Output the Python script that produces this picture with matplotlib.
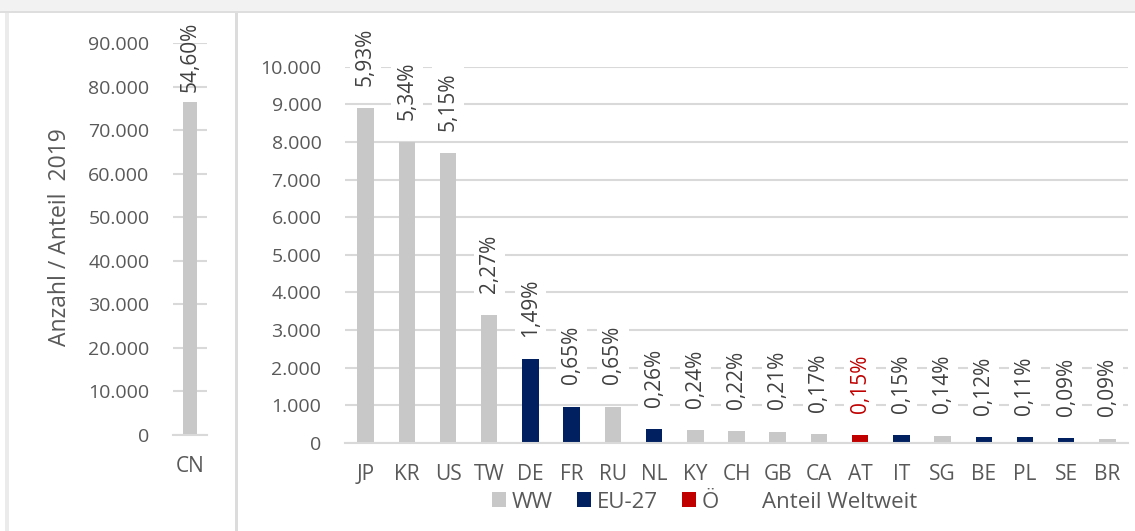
import matplotlib.pyplot as plt
from matplotlib.patches import Rectangle, Patch
from matplotlib.ticker import FuncFormatter

plt.rcParams['font.family'] = ['Open Sans', 'DejaVu Sans']

# Anzahl 2019 und Anteil weltweit
cn_value = 76600
cn_share = '54,60%'

countries = ['JP', 'KR', 'US', 'TW', 'DE', 'FR', 'RU', 'NL', 'KY', 'CH',
             'GB', 'CA', 'AT', 'IT', 'SG', 'BE', 'PL', 'SE', 'BR']
values = [8900, 8000, 7710, 3400, 2230, 965, 965, 375, 350, 310,
          300, 240, 205, 205, 195, 160, 150, 125, 115]
shares = ['5,93%', '5,34%', '5,15%', '2,27%', '1,49%', '0,65%', '0,65%',
          '0,26%', '0,24%', '0,22%', '0,21%', '0,17%', '0,15%', '0,15%',
          '0,14%', '0,12%', '0,11%', '0,09%', '0,09%']
groups = ['WW', 'WW', 'WW', 'WW', 'EU', 'EU', 'WW', 'EU', 'WW', 'WW',
          'WW', 'WW', 'AT', 'EU', 'WW', 'EU', 'EU', 'EU', 'WW']

colors = {'WW': '#c8c8c8', 'EU': '#002060', 'AT': '#c00000'}
text_col = '#595959'
grid_col = '#d9d9d9'

W, H = 1135, 531
fig = plt.figure(figsize=(W / 100, H / 100), dpi=100)
fig.patch.set_facecolor('white')

# Rahmen / Trennlinien
fig.add_artist(Rectangle((0, 1 - 11 / H), 1, 11 / H, transform=fig.transFigure,
                         facecolor='#f2f2f2', edgecolor='none'))
fig.add_artist(Rectangle((0, 1 - 13 / H), 1, 2 / H, transform=fig.transFigure,
                         facecolor='#dedede', edgecolor='none'))
fig.add_artist(Rectangle((5 / W, 0), 4 / W, 1 - 13 / H, transform=fig.transFigure,
                         facecolor='#ebebeb', edgecolor='none'))
fig.add_artist(Rectangle((235 / W, 0), 3 / W, 1 - 13 / H, transform=fig.transFigure,
                         facecolor='#dcdcdc', edgecolor='none'))

fmt = FuncFormatter(lambda v, p: f'{int(v):,}'.replace(',', '.'))


def style_axis(ax):
    for s in ['top', 'right', 'left']:
        ax.spines[s].set_visible(False)
    ax.spines['bottom'].set_color(grid_col)
    ax.spines['bottom'].set_linewidth(1.5)
    ax.grid(axis='y', color=grid_col, linewidth=1.5)
    ax.set_axisbelow(True)
    ax.tick_params(axis='y', length=0, pad=17, labelsize=14, labelcolor=text_col)
    ax.tick_params(axis='x', length=0, pad=15, labelsize=15, labelcolor=text_col)
    ax.yaxis.set_major_formatter(fmt)


# linkes Panel: CN
ax1 = fig.add_axes([173 / W, 1 - 435 / H, 34 / W, (435 - 43.3) / H])
ax1.bar([0], [cn_value], width=0.42, color=colors['WW'])
ax1.set_xlim(-0.5, 0.5)
ax1.set_ylim(0, 90000)
ax1.set_yticks(range(0, 90001, 10000))
ax1.set_xticks([0])
ax1.set_xticklabels(['CN'])
style_axis(ax1)
ax1.annotate(cn_share, (0, cn_value), xytext=(0, 7), textcoords='offset points',
             rotation=90, ha='center', va='bottom', fontsize=15, color='#404040',
             annotation_clip=False)

fig.text(60 / W, 1 - 237.5 / H, 'Anzahl / Anteil  2019', rotation=90,
         ha='center', va='center', fontsize=16.5, color=text_col)

# rechtes Panel
ax2 = fig.add_axes([345 / W, 1 - 443 / H, 783 / W, (443 - 66.7) / H])
x = range(len(countries))
ax2.bar(x, values, width=0.4, color=[colors[g] for g in groups])
ax2.set_xlim(-0.5, len(countries) - 0.5)
ax2.set_ylim(0, 10000)
ax2.set_yticks(range(0, 10001, 1000))
ax2.set_xticks(list(x))
ax2.set_xticklabels(countries)
style_axis(ax2)

for i, (v, s, g) in enumerate(zip(values, shares, groups)):
    ax2.annotate(s, (i, v), xytext=(0, 16), textcoords='offset points',
                 rotation=90, ha='center', va='bottom', fontsize=15,
                 color=colors['AT'] if g == 'AT' else '#404040',
                 bbox=dict(boxstyle='square,pad=0.25', facecolor='white',
                           edgecolor='none'),
                 annotation_clip=False)

handles = [Patch(facecolor=colors['WW']), Patch(facecolor=colors['EU']),
           Patch(facecolor=colors['AT']), Patch(facecolor='none', edgecolor='none')]
fig.legend(handles, ['WW', 'EU-27', 'Ö', 'Anteil Weltweit'], ncol=4,
           loc='center', bbox_to_anchor=(705 / W, 29 / H), frameon=False,
           fontsize=16, labelcolor=text_col, handlelength=0.62,
           handleheight=0.62, handletextpad=0.25, columnspacing=1.1)

fig.savefig('out.png', dpi=100)
